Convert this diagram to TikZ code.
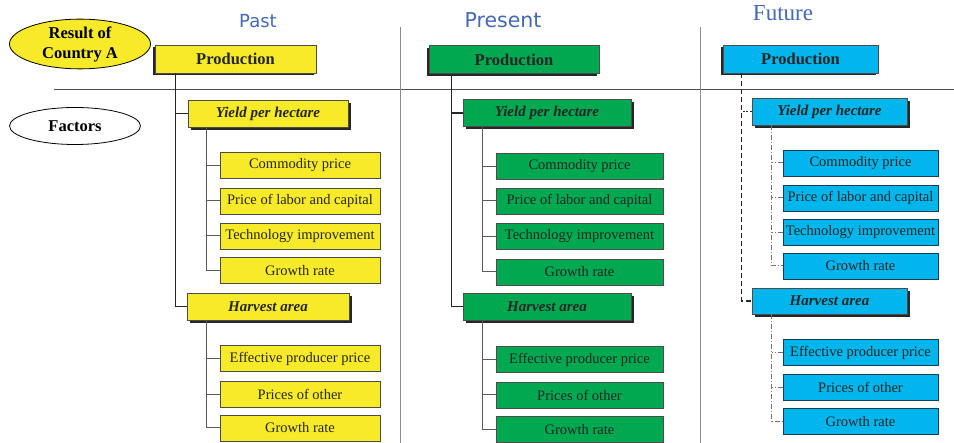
\documentclass[tikz,border=0pt]{standalone}
\usepackage{fontspec}
\setmainfont{Liberation Serif}
\newfontfamily\headsans{DejaVu Sans}
\usetikzlibrary{positioning,shapes.geometric,shadows}

\definecolor{pastfill}{RGB}{247,234,40}
\definecolor{presfill}{RGB}{0,168,80}
\definecolor{futfill}{RGB}{0,182,236}
\definecolor{headblue}{RGB}{68,104,178}
\definecolor{futline}{RGB}{22,62,80}

\tikzset{
  prodbox/.style={draw=gray!60!black, line width=0.8pt, minimum height=28pt, inner sep=0pt,
    text=black!85, font=\fontsize{16.5}{18}\selectfont\bfseries,
    drop shadow={shadow xshift=-2.5pt, shadow yshift=-2.5pt, opacity=1, fill=black!85}},
  mainbox/.style={draw=gray!60!black, line width=0.8pt, minimum height=27pt, inner sep=0pt,
    text=black!85, font=\fontsize{15}{16}\selectfont\bfseries\itshape,
    drop shadow={shadow xshift=3pt, shadow yshift=-3pt, opacity=1, fill=black!85}},
  subbox/.style={draw=black!70, line width=0.8pt, minimum height=26pt, inner sep=0pt,
    text=black!85, font=\fontsize{14.5}{16}\selectfont},
  header/.style={text=headblue, font=\fontsize{18}{20}\selectfont\headsans, anchor=base},
  oval/.style={ellipse, draw=black, line width=0.8pt, inner sep=0pt, align=center,
    font=\fontsize{16.5}{20}\selectfont\bfseries},
  trunk/.style={line width=1.6pt, black!85},
  twig/.style={line width=1pt, black!65},
  ftrunk/.style={trunk, dash pattern=on 5pt off 3pt},
  fbranch/.style={trunk, dash pattern=on 2pt off 1.5pt},
  ftwig/.style={line width=1pt, black!55, dash pattern=on 5pt off 2pt on 1pt off 2pt},
  rule/.style={line width=0.8pt, black!70},
  divider/.style={line width=0.8pt, black!45},
}

\begin{document}
\begin{tikzpicture}[x=1pt,y=-1pt]
\useasboundingbox (0,0) rectangle (954,443);

% frame
\draw[rule] (54,89) -- (954,89);
\draw[divider] (400,27) -- (400,443);
\draw[divider] (700,27) -- (700,443);

% row labels
\node[oval, fill=pastfill, minimum width=141pt, minimum height=46pt] (result) at (80,44) {Result of\\Country A};
\node[oval, fill=white, minimum width=131pt, minimum height=37pt] (factors) at (75,126) {Factors};

% headers
\node[header] (past) at (258,28) {Past};
\node[header, font=\fontsize{20.5}{22}\selectfont\headsans] (present) at (503,28) {Present};
\node[header, font=\fontsize{23}{25}\selectfont] (future) at (783,20.5) {Future};

% Past
\node[prodbox, fill=pastfill, minimum width=161pt] (paProd) at (235.5,59) {Production};
\node[mainbox, fill=pastfill, minimum width=160pt] (paYield) at (268,113.5) {Yield per hectare};
\node[subbox, fill=pastfill, minimum width=160pt] (paC1) at (300,165.5) {Commodity price};
\node[subbox, fill=pastfill, minimum width=160pt] (paC2) at (300,201) {Price of labor and capital};
\node[subbox, fill=pastfill, minimum width=160pt] (paC3) at (300,236) {Technology improvement};
\node[subbox, fill=pastfill, minimum width=160pt] (paC4) at (300,270.5) {Growth rate};
\node[mainbox, fill=pastfill, minimum width=162pt] (paHarv) at (268,306.5) {Harvest area};
\node[subbox, fill=pastfill, minimum width=160pt] (paH1) at (300,358.5) {Effective producer price};
\node[subbox, fill=pastfill, minimum width=160pt] (paH2) at (300,394.5) {Prices of other};
\node[subbox, fill=pastfill, minimum width=160pt] (paH3) at (300,428) {Growth rate};

\coordinate (paT) at ([xshift=21pt]paProd.south west);
\draw[trunk] (paT) |- (paHarv.west);
\draw[trunk] (paYield.west) -- (paYield.west -| paT);
\coordinate (paYT) at ([xshift=19pt]paYield.south west);
\draw[twig] (paYT) |- (paC4.west);
\draw[twig] (paC1.west) -- (paC1.west -| paYT);
\draw[twig] (paC2.west) -- (paC2.west -| paYT);
\draw[twig] (paC3.west) -- (paC3.west -| paYT);
\coordinate (paHT) at ([xshift=20pt]paHarv.south west);
\draw[twig] (paHT) |- (paH3.west);
\draw[twig] (paH1.west) -- (paH1.west -| paHT);
\draw[twig] (paH2.west) -- (paH2.west -| paHT);

% Present
\node[prodbox, fill=presfill, minimum width=170pt] (prProd) at (514,59.5) {Production};
\node[mainbox, fill=presfill, minimum width=168pt] (prYield) at (547,113) {Yield per hectare};
\node[subbox, fill=presfill, minimum width=167pt] (prC1) at (579.5,166.5) {Commodity price};
\node[subbox, fill=presfill, minimum width=167pt] (prC2) at (579.5,201) {Price of labor and capital};
\node[subbox, fill=presfill, minimum width=167pt] (prC3) at (579.5,236.5) {Technology improvement};
\node[subbox, fill=presfill, minimum width=167pt] (prC4) at (579.5,272) {Growth rate};
\node[mainbox, fill=presfill, minimum width=168pt] (prHarv) at (547,306.5) {Harvest area};
\node[subbox, fill=presfill, minimum width=167pt] (prH1) at (579.5,359.5) {Effective producer price};
\node[subbox, fill=presfill, minimum width=167pt] (prH2) at (579.5,395) {Prices of other};
\node[subbox, fill=presfill, minimum width=167pt] (prH3) at (579.5,429.5) {Growth rate};

\coordinate (prT) at ([xshift=23pt]prProd.south west);
\draw[trunk] (prT) |- (prHarv.west);
\draw[trunk] (prYield.west) -- (prYield.west -| prT);
\coordinate (prYT) at ([xshift=20pt]prYield.south west);
\draw[twig] (prYT) |- (prC4.west);
\draw[twig] (prC1.west) -- (prC1.west -| prYT);
\draw[twig] (prC2.west) -- (prC2.west -| prYT);
\draw[twig] (prC3.west) -- (prC3.west -| prYT);
\coordinate (prHT) at ([xshift=20pt]prHarv.south west);
\draw[twig] (prHT) |- (prH3.west);
\draw[twig] (prH1.west) -- (prH1.west -| prHT);
\draw[twig] (prH2.west) -- (prH2.west -| prHT);

% Future
\node[prodbox, fill=futfill, minimum width=155pt] (fuProd) at (800.5,59) {Production};
\node[mainbox, fill=futfill, minimum width=155pt] (fuYield) at (829.5,111.5) {Yield per hectare};
\node[subbox, fill=futfill, draw=futline, minimum width=155pt] (fuC1) at (860.5,163) {Commodity price};
\node[subbox, fill=futfill, draw=futline, minimum width=155pt] (fuC2) at (860.5,198) {Price of labor and capital};
\node[subbox, fill=futfill, draw=futline, minimum width=155pt] (fuC3) at (860.5,232.5) {Technology improvement};
\node[subbox, fill=futfill, draw=futline, minimum width=155pt] (fuC4) at (860.5,266) {Growth rate};
\node[mainbox, fill=futfill, minimum width=155pt, minimum height=26pt] (fuHarv) at (829.5,301) {Harvest area};
\node[subbox, fill=futfill, draw=futline, minimum width=155pt] (fuH1) at (860.5,352.5) {Effective producer price};
\node[subbox, fill=futfill, draw=futline, minimum width=155pt] (fuH2) at (860.5,387.5) {Prices of other};
\node[subbox, fill=futfill, draw=futline, minimum width=155pt] (fuH3) at (860.5,421.5) {Growth rate};

\coordinate (fuT) at ([xshift=19pt]fuProd.south west);
\draw[ftrunk] (fuT) |- (fuHarv.west);
\draw[fbranch] (fuYield.west) -- (fuYield.west -| fuT);
\coordinate (fuYT) at ([xshift=20pt]fuYield.south west);
\draw[ftwig] (fuYT) |- (fuC4.west);
\draw[ftwig] (fuC1.west) -- (fuC1.west -| fuYT);
\draw[ftwig] (fuC2.west) -- (fuC2.west -| fuYT);
\draw[ftwig] (fuC3.west) -- (fuC3.west -| fuYT);
\coordinate (fuHT) at ([xshift=20pt]fuHarv.south west);
\draw[ftwig] (fuHT) |- (fuH3.west);
\draw[ftwig] (fuH1.west) -- (fuH1.west -| fuHT);
\draw[ftwig] (fuH2.west) -- (fuH2.west -| fuHT);

\end{tikzpicture}
\end{document}
